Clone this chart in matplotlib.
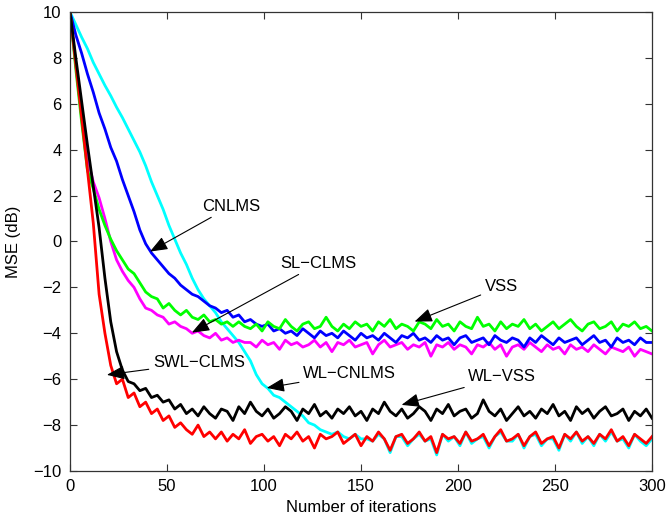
import numpy as np
import matplotlib
matplotlib.use("Agg")
import matplotlib.pyplot as plt

plt.rcParams['font.family'] = ['Liberation Sans', 'DejaVu Sans']

# iteration index (one sample every 3 iterations)
iters = np.arange(0, 301, 3)

wl_cnlms = [10.0, 9.45, 8.9, 8.4, 7.8, 7.3, 6.8, 6.35, 5.85, 5.4,
            4.9, 4.4, 3.9, 3.3, 2.6, 2.0, 1.4, 0.7, 0.1, -0.5,
            -1.0, -1.6, -2.1, -2.5, -2.8, -3.1, -3.5, -3.8, -4.1, -4.4,
            -4.8, -5.2, -5.8, -6.2, -6.4, -6.7, -6.8, -7.0, -7.2, -7.4,
            -7.6, -7.9, -8.0, -8.2, -8.3, -8.4, -8.3, -8.5, -8.6, -8.4,
            -8.6,
            -8.6, -8.7, -8.4, -8.6, -9.2, -8.5, -8.5, -8.9, -8.6, -8.4,
            -8.7, -8.6, -9.3, -8.4, -8.7, -8.5, -8.9, -8.3, -8.8, -8.6,
            -8.5, -9.0, -8.5, -8.3, -8.7, -8.7, -8.4, -9.0, -8.5, -8.4,
            -8.9, -8.6, -8.6, -9.1, -8.4, -8.7, -8.3, -8.8, -8.5, -8.9,
            -8.4, -8.7, -8.3, -8.7, -8.6, -9.0, -8.4, -8.7, -8.9, -8.6]

cnlms = [10.0, 9.0, 8.2, 7.3, 6.5, 5.6, 4.9, 4.1, 3.5, 2.7,
         2.0, 1.3, 0.5, -0.1, -0.5, -0.8, -1.1, -1.4, -1.6, -1.9,
         -2.1, -2.3, -2.4, -2.6, -2.8, -2.9, -3.1, -3.0, -3.3, -3.2,
         -3.5, -3.4, -3.6, -3.7, -3.6, -3.9,
         -3.8, -4.0, -3.9, -4.1, -3.8, -4.0, -4.2, -3.9, -4.1, -4.0,
         -4.2, -3.9, -4.1, -4.3, -4.0, -4.2, -4.1, -4.3, -4.0, -4.2,
         -4.4, -4.1, -4.2, -4.0, -4.3, -4.2, -4.4, -4.1, -4.3, -4.2,
         -4.5, -4.2, -4.1, -4.4, -4.3, -4.2, -4.5, -4.1, -4.3, -4.4,
         -4.2, -4.3, -4.6, -4.2, -4.4, -4.1, -4.3, -4.5, -4.2, -4.4,
         -4.3, -4.2, -4.5, -4.3, -4.1, -4.4, -4.3, -4.6, -4.2, -4.4,
         -4.3, -4.5, -4.2, -4.4, -4.4]

sl_clms = [10.0, 7.7, 5.5, 3.6, 2.6, 1.9, 1.0, 0.0, -0.8, -1.3,
           -1.7, -2.0, -2.5, -2.9, -3.0, -3.2, -3.3, -3.6, -3.5, -3.7,
           -3.8, -4.0, -3.9, -4.1, -4.2, -4.0, -4.3, -4.2, -4.4, -4.3,
           -4.4,
           -4.4, -4.6, -4.3, -4.5, -4.4, -4.7, -4.3, -4.5, -4.4, -4.6,
           -4.5, -4.3, -4.6, -4.4, -4.8, -4.4, -4.5, -4.3, -4.6, -4.5,
           -4.4, -4.9, -4.5, -4.3, -4.6, -4.5, -4.4, -4.7, -4.5, -4.6,
           -4.4, -5.0, -4.5, -4.6, -4.4, -4.7, -4.5, -4.6, -4.9, -4.5,
           -4.6, -4.4, -4.7, -4.5, -5.0, -4.6, -4.5, -4.7, -4.4, -4.6,
           -4.8, -4.5, -4.7, -4.6, -4.9, -4.5, -4.7, -4.6, -4.8, -4.5,
           -4.7, -4.9, -4.6, -4.7, -4.8, -4.6, -5.0, -4.7, -4.8, -4.9]

vss = [10.0, 7.5, 5.2, 3.1, 2.3, 1.4, 0.7, 0.1, -0.4, -0.8,
       -1.2, -1.4, -1.8, -2.2, -2.4, -2.5, -2.9, -2.7, -3.0, -3.2,
       -3.0, -3.3, -3.4, -3.2, -3.5, -3.4, -3.6, -3.5, -3.7, -3.5,
       -3.7,
       -3.8, -3.6, -3.9, -3.5, -3.7, -3.8, -3.4, -3.7, -3.9, -3.6,
       -3.5, -3.8, -3.7, -3.3, -3.7, -3.9, -3.6, -3.8, -3.5, -3.7,
       -3.6, -3.9, -3.5, -3.7, -3.4, -3.8, -3.6, -3.7, -3.9, -3.5,
       -3.6, -3.8, -3.4, -3.7, -3.6, -3.9, -3.5, -3.7, -3.8, -3.3,
       -3.7, -3.6, -3.9, -3.5, -3.8, -3.6, -3.7, -3.4, -3.8, -3.6,
       -3.9, -3.7, -3.5, -3.8, -3.6, -3.4, -3.7, -3.9, -3.6, -3.5,
       -3.8, -3.7, -3.5, -3.9, -3.6, -3.7, -3.5, -3.8, -3.7, -3.9]

swl_clms = [10.0, 7.7, 5.4, 3.1, 0.8, -2.3, -4.0, -5.4, -6.2, -6.0,
            -6.8, -6.6, -7.2, -7.0, -7.5, -7.3, -7.8, -7.6, -8.1, -7.9,
            -8.2, -8.4, -8.0, -8.5, -8.3, -8.6,
            -8.3, -8.7, -8.4, -8.6, -8.2, -8.8, -8.5, -8.4, -8.7, -8.5,
            -8.9, -8.4, -8.6, -8.3, -8.7, -8.5, -9.0, -8.4, -8.6, -8.5,
            -8.3, -8.8, -8.6, -8.4, -8.9, -8.5, -8.7, -8.3, -8.6, -9.1,
            -8.5, -8.4, -8.8, -8.6, -8.3, -8.7, -8.5, -9.2, -8.4, -8.6,
            -8.5, -8.8, -8.3, -8.7, -8.6, -8.4, -8.9, -8.5, -8.2, -8.7,
            -8.6, -8.4, -8.9, -8.5, -8.3, -8.8, -8.6, -8.5, -9.0, -8.4,
            -8.6, -8.3, -8.7, -8.5, -8.8, -8.4, -8.6, -8.2, -8.7, -8.5,
            -8.9, -8.4, -8.6, -8.8, -8.5]

wl_vss = [10.0, 8.0, 6.1, 4.2, 2.4, 0.6, -1.6, -3.5, -4.8, -5.6,
          -6.1, -6.2, -6.5, -6.4, -6.8, -6.7, -7.0, -6.9, -7.3, -7.1,
          -7.5,
          -7.3, -7.6, -7.2, -7.5, -7.7, -7.3, -7.4, -7.8, -7.2, -7.5,
          -7.0, -7.4, -7.6, -7.3, -7.7, -7.5, -7.2, -7.4, -7.8, -7.3,
          -7.5, -7.1, -7.6, -7.4, -7.7, -7.3, -7.5, -7.2, -7.6, -7.4,
          -7.8, -7.3, -7.5, -7.0, -7.4, -7.6, -7.3, -7.7, -7.5, -7.2,
          -7.4, -7.8, -7.3, -7.5, -7.1, -7.6, -7.4, -7.3, -7.7, -7.5,
          -6.9, -7.4, -7.6, -7.3, -7.8, -7.5, -7.2, -7.6, -7.4, -7.7,
          -7.3, -7.5, -7.1, -7.6, -7.4, -7.8, -7.2, -7.5, -7.3, -7.7,
          -7.4, -7.2, -7.6, -7.5, -7.3, -7.8, -7.4, -7.6, -7.3, -7.7]

# label text, arrow tip, text centre
labels = ['CNLMS', 'SL\u2212CLMS', 'VSS', 'SWL\u2212CLMS', 'WL\u2212CNLMS', 'WL\u2212VSS']
tips = [(41.2, -0.44), (62.8, -3.97), (177.6, -3.49), (19.0, -5.81), (101.4, -6.38), (170.9, -7.12)]
text_pos = [(82.9, 1.53), (128.2, -0.96), (222.3, -1.97), (66.4, -5.28), (144.1, -5.76), (222.8, -5.9)]


fig = plt.figure(figsize=(6.68, 5.19), dpi=100)
ax = fig.add_axes([0.1048, 0.0925, 0.8713, 0.8844])

ax.plot(iters, wl_cnlms, color=(0, 1, 1), lw=2)
ax.plot(iters, sl_clms, color=(1, 0, 1), lw=2)
ax.plot(iters, cnlms, color=(0, 0, 1), lw=2)
ax.plot(iters, vss, color=(0, 1, 0), lw=2)
ax.plot(iters, swl_clms, color=(1, 0, 0), lw=2)
ax.plot(iters, wl_vss, color='k', lw=2)

for lab, tip, tp in zip(labels, tips, text_pos):
    ax.annotate(lab, xy=tip, xytext=tp, fontsize=12, ha='center', va='center',
                arrowprops=dict(arrowstyle='-|>,head_length=0.9,head_width=0.35',
                                color='k', lw=0.8, mutation_scale=12,
                                shrinkA=1, shrinkB=0))

ax.set_xlim(0, 300)
ax.set_ylim(-10, 10)
ax.set_xticks(np.arange(0, 301, 50))
ax.set_yticks(np.arange(-10, 11, 2))
ax.tick_params(direction='in', top=True, right=True, length=5, width=0.8,
               labelsize=12, colors='#333333', labelcolor='k', pad=6)
for s in ax.spines.values():
    s.set_color('#333333')
    s.set_linewidth(0.9)

ax.set_xlabel('Number of iterations', fontsize=12, labelpad=4)
ax.set_ylabel('MSE (dB)', fontsize=12, labelpad=9)

fig.savefig('out.png', dpi=100)
